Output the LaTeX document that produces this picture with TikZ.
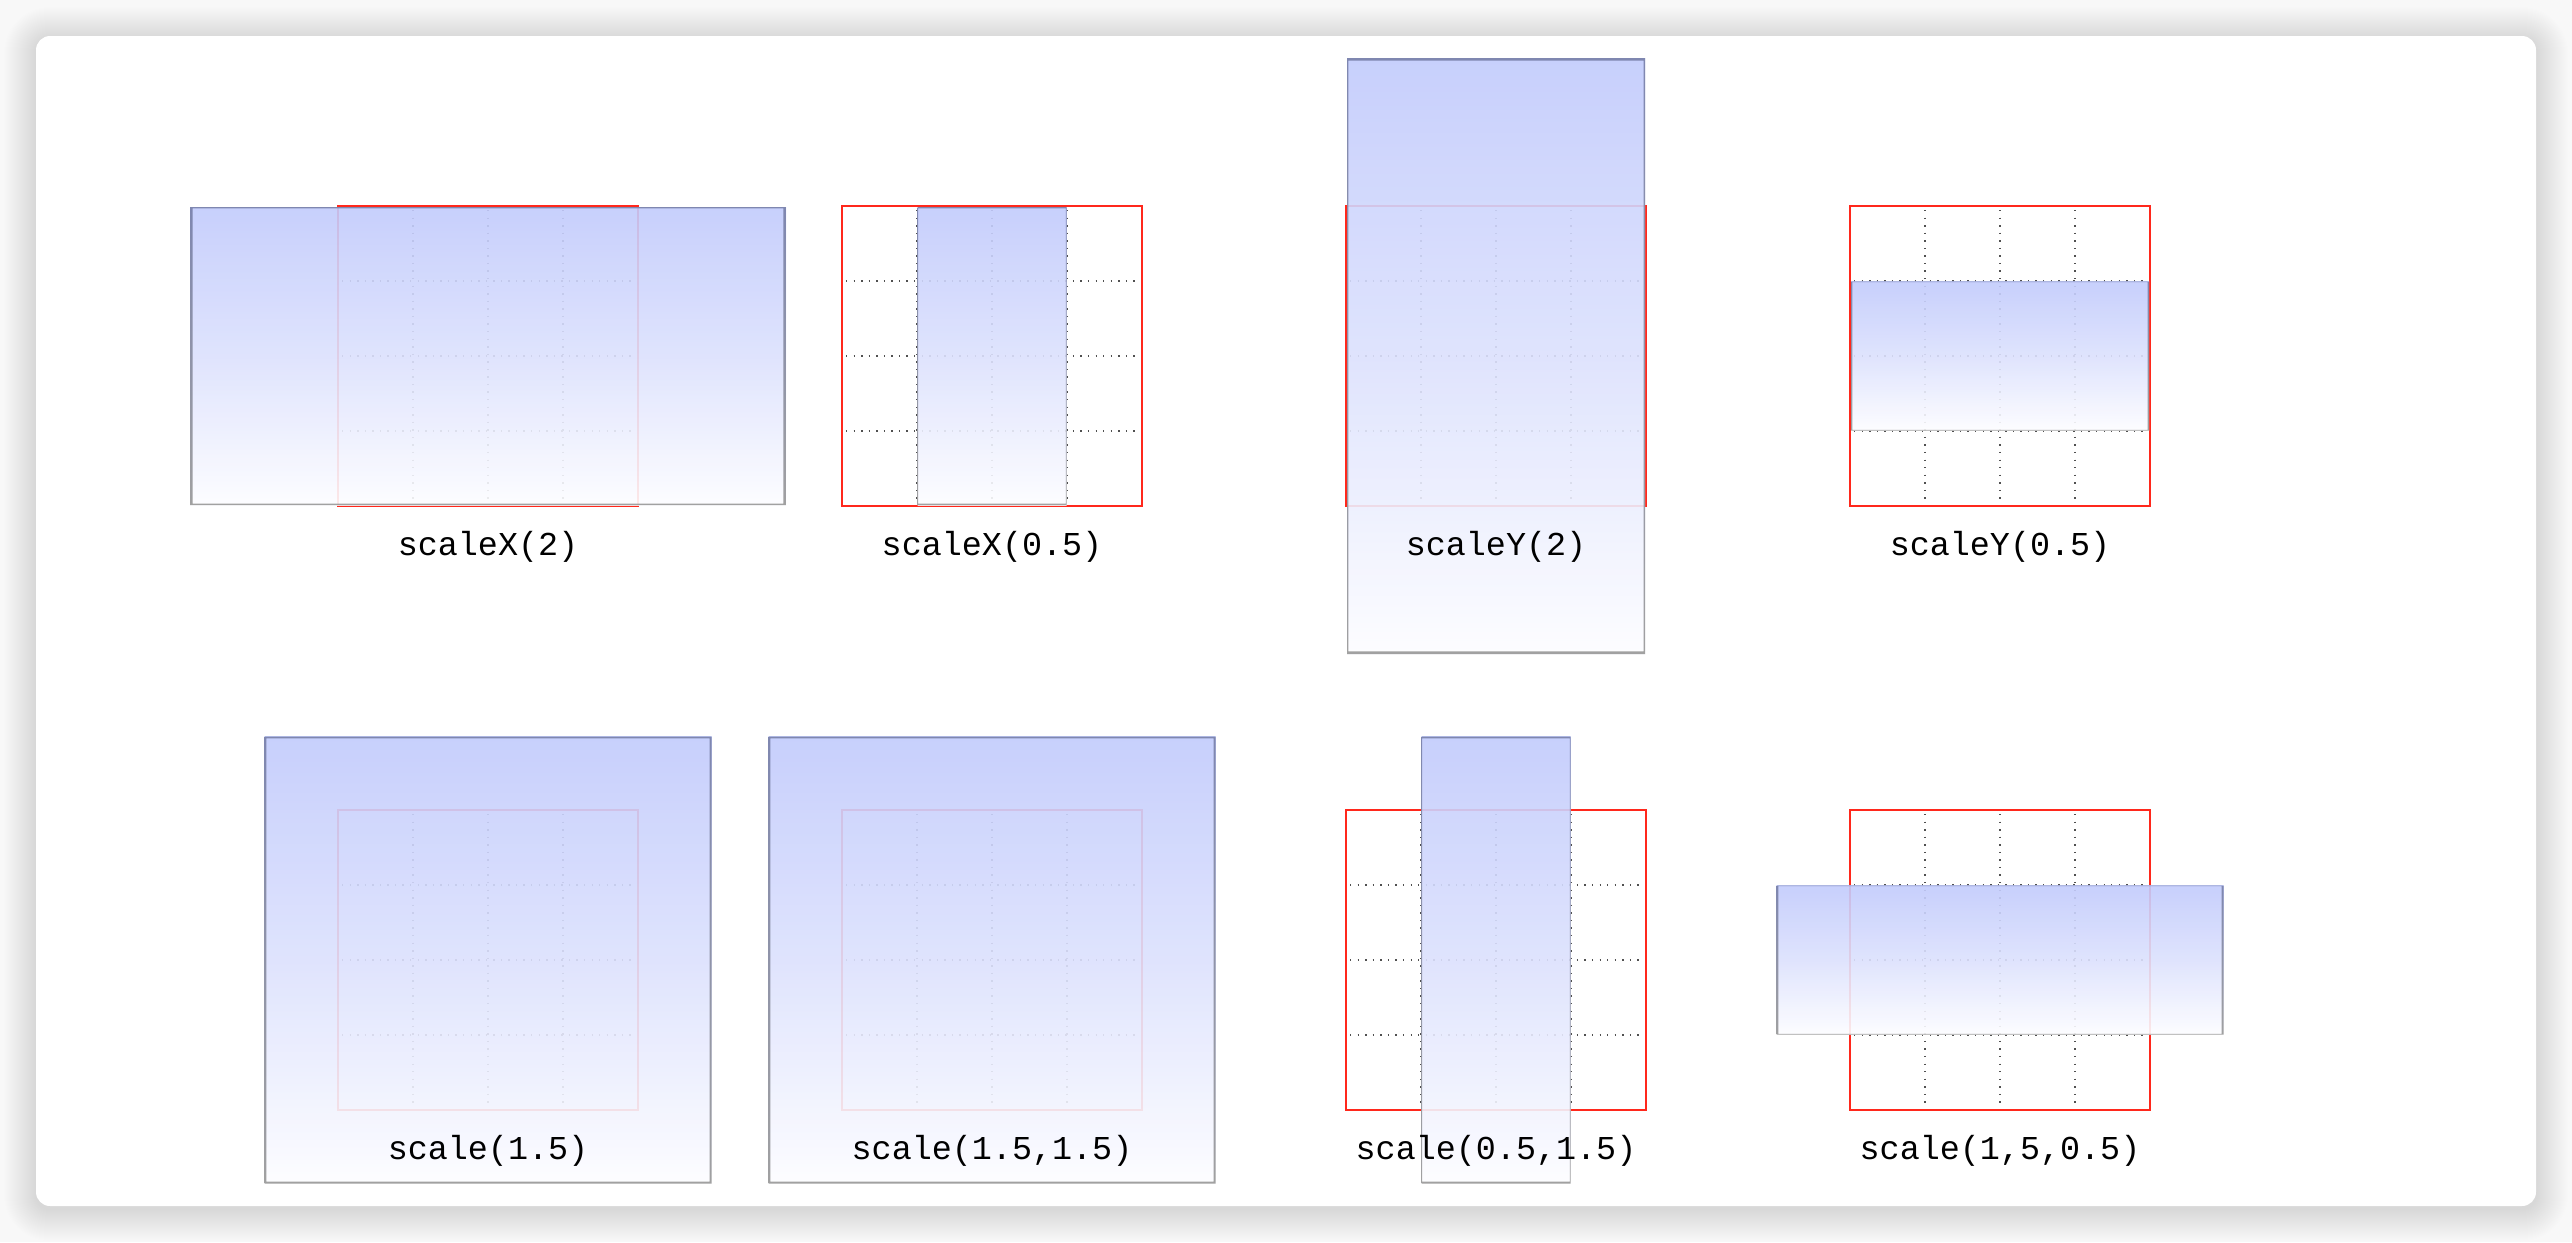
\documentclass[tikz,border=0pt]{standalone}
\usepackage{fontspec}
\setmonofont{Liberation Mono}
\definecolor{bgout}{HTML}{F8F8F8}
\definecolor{redbox}{RGB}{255,40,28}
\definecolor{bluetop}{HTML}{C2CBFC}
\definecolor{bluemid}{HTML}{DCE1FD}
\definecolor{bluebot}{HTML}{FDFDFF}
\definecolor{bordtop}{HTML}{7880A8}
\definecolor{bordbot}{HTML}{979797}
\definecolor{gridc}{HTML}{505050}
\tikzset{
  gridline/.style={draw=gridc, line width=0.3pt, dash pattern=on 0.4pt off 1.75pt},
  redframe/.style={draw=redbox, line width=0.57pt},
  bluefill/.style={top color=bluetop, bottom color=bluebot, middle color=bluemid, fill opacity=0.9, draw=none},
  bluebord/.style={top color=bordtop, bottom color=bordbot, even odd rule, fill opacity=0.9, draw=none},
  lbl/.style={font=\ttfamily\fontsize{9.5}{11}\selectfont, anchor=base, inner sep=0pt, text=black},
  cardshadow/.style={fill=black, fill opacity=0.0035, draw=none}
}
\newcommand{\tpanel}[6]{%
  \pgfmathsetmacro{\hx}{149*#3}%
  \pgfmathsetmacro{\hy}{149*#4}%
  \pgfmathsetmacro{\bx}{1.3*#3}%
  \pgfmathsetmacro{\by}{1.3*#4}%
  \foreach \t in {-75,0,75}{%
    \draw[gridline] (#1+\t,#2-146) -- (#1+\t,#2+146);
    \draw[gridline] (#1-146,#2+\t) -- (#1+146,#2+\t);
  }%
  \draw[redframe] (#1-150,#2-150) rectangle (#1+150,#2+150);
  \shade[bluefill] (#1-\hx,#2-\hy) rectangle (#1+\hx,#2+\hy);
  \shade[bluebord] (#1-\hx,#2-\hy) rectangle (#1+\hx,#2+\hy)
     (#1-\hx+\bx,#2-\hy+\by) rectangle (#1+\hx-\bx,#2+\hy-\by);
  \node[lbl] (#6) at (#1,#2+199) {#5};
}
\begin{document}
\begin{tikzpicture}[x=0.01cm, y=-0.01cm]
  \useasboundingbox (0,0) rectangle (2572,1242);
  \fill[bgout] (0,0) rectangle (2572,1242);
  \foreach \i in {1,...,32}{%
    \pgfmathsetmacro{\rc}{(14+\i)*0.2845}%
    \fill[cardshadow, rounded corners=\rc pt] (36-\i,36-\i+3) rectangle (2536+\i,1206+\i+3);
  }
  \fill[white, rounded corners=4pt] (36,36) rectangle (2536,1206);
  % row 1
  \tpanel{488}{356}{2}{1}{scaleX(2)}{lA}
  \tpanel{992}{356}{0.5}{1}{scaleX(0.5)}{lB}
  \tpanel{1496}{356}{1}{2}{scaleY(2)}{lC}
  \tpanel{2000}{356}{1}{0.5}{scaleY(0.5)}{lD}
  % row 2
  \tpanel{488}{960}{1.5}{1.5}{scale(1.5)}{lE}
  \tpanel{992}{960}{1.5}{1.5}{scale(1.5,1.5)}{lF}
  \tpanel{1496}{960}{0.5}{1.5}{scale(0.5,1.5)}{lG}
  \tpanel{2000}{960}{1.5}{0.5}{scale(1,5,0.5)}{lH}
\end{tikzpicture}
\end{document}
